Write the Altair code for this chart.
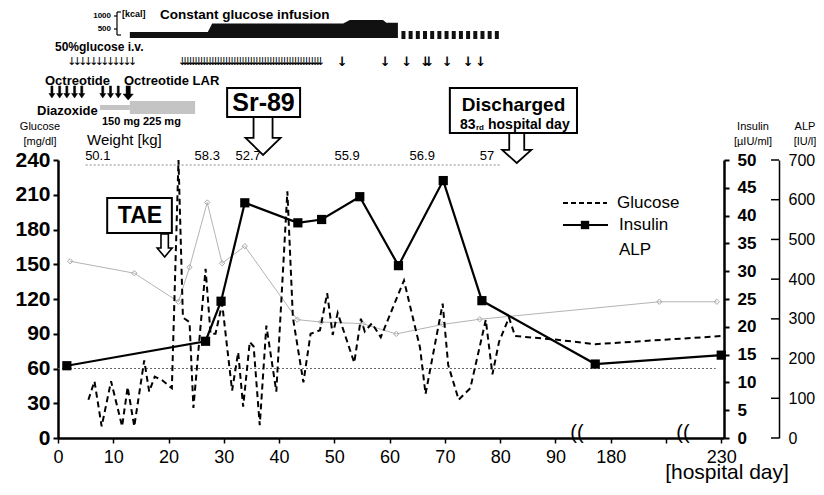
import altair as alt
import pandas as pd

# ---------------- data ----------------
glucose_day = [5.5, 6.6, 7.9, 9.6, 11.6, 12.6, 13.8, 15.6, 16.5, 17.5, 18.8, 20.6, 21.8, 22.6,
               23.8, 24.5, 26.7, 27.6, 28.5, 29.7, 31.5, 32.6, 33.5, 34.7, 35.4, 36.5, 37.7,
               39.5, 41.5, 42.5, 44.4, 45.7, 47.4, 48.7, 49.7, 50.6, 53.6, 54.8, 55.5, 56.8,
               58.4, 62.6, 65.5, 66.5, 69.6, 70.6, 72.5, 74.6, 77.4, 78.6, 79.8, 81.6, 82.7,
               90, 173, 230]
glucose_val = [33, 49, 10, 49, 10, 44, 10, 67, 40, 53, 50, 43, 240, 104,
               100, 26, 146, 90, 90, 116, 41, 74, 27, 83, 79, 11, 97,
               40, 213, 104, 48, 90, 93, 125, 89, 108, 65, 103, 92, 99,
               87, 136, 78, 38, 116, 63, 33, 43, 102, 55, 83, 104, 88,
               85, 81, 88]

insulin_day = [1.6, 26.7, 29.5, 33.8, 43.4, 47.7, 54.6, 61.6, 69.7, 76.7, 173, 230]
insulin_val = [13.0, 17.4, 24.6, 42.3, 38.7, 39.3, 43.4, 31.0, 46.3, 24.7, 13.3, 14.9]

alp_day = [2.2, 13.8, 21.8, 23.8, 27.0, 29.7, 33.8, 43.3, 47.6, 55.1, 61.2, 69.6, 76.3, 202, 228]
alp_val = [445, 415, 343, 430, 593, 440, 483, 298, 292, 288, 262, 286, 299, 343, 343]

weight_day = [7.2, 27.0, 34.4, 52.3, 65.9, 77.6]
weight_kg = ["50.1", "58.3", "52.7", "55.9", "56.9", "57"]

x_tick_labels = ["0", "10", "20", "30", "40", "50", "60", "70", "80", "90", "180", "", "230"]
glucose_ticks = [0, 30, 60, 90, 120, 150, 180, 210, 240]
insulin_ticks = [0, 5, 10, 15, 20, 25, 30, 35, 40, 45, 50]
alp_ticks = [0, 100, 200, 300, 400, 500, 600, 700]

hypo_threshold = 60  # mg/dl reference line

infusion_day = [13.0, 27.1, 27.9, 51.6, 52.8, 58.8, 59.4, 61.5]
infusion_kcal = [250, 250, 600, 600, 750, 750, 640, 640]
infusion_block_day = [62.5, 63.8, 65.1, 66.4, 67.7, 69.0, 70.3, 71.6, 72.9, 74.2, 75.5, 76.8, 78.1, 79.4]

iv_group1_day = [2.5, 3.5, 4.5, 5.5, 6.5, 7.5, 8.5, 9.5, 10.5, 11.5, 12.5, 13.5]
iv_group2_day = [22.5, 23.0, 23.5, 24.0, 24.5, 25.0, 25.5, 26.0, 26.5, 27.0, 27.5, 28.0, 28.5,
                 29.0, 29.5, 30.0, 30.5, 31.0, 31.5, 32.0, 32.5, 33.0, 33.5, 34.0, 34.5, 35.0,
                 35.5, 36.0, 36.5, 37.0, 37.5, 38.0, 38.5, 39.0, 39.5, 40.0, 40.5, 41.0, 41.5,
                 42.0, 42.5, 43.0, 43.5, 44.0, 44.5, 45.0, 45.5, 46.0, 46.5, 47.0, 47.5]
iv_single_day = [51.4, 59.2, 63.1, 66.5, 67.1, 70.4, 74.2, 76.5]

octreotide_day = [-1.1, 0.3, 1.6, 3.0, 4.3, 8.1, 9.5, 10.9]
octreotide_lar_day = [12.7]

diazoxide_start = [7.6, 13.0]
diazoxide_end = [13.0, 24.8]
diazoxide_dose = [150, 225]

tae_day, sr89_day, discharge_day = 19.3, 37.1, 83.0

# ---------------- helpers ----------------
FONT = "Liberation Sans"
NARROW = "Liberation Sans Narrow, Liberation Sans"
OX, OY = 58, 160          # image position of the plot origin
W, H = 666, 278


def pos(d):
    """axis position of a hospital day (broken axis: 0-90 linear, then 180-230)"""
    return d / 10 if d <= 95 else 10 + (d - 180) / 25


ONE = pd.DataFrame({"k": [0]})
xs = alt.Scale(domain=[0, 12.05], nice=False, zero=False)
label_expr = "[" + ",".join("'%s'" % s for s in x_tick_labels) + "][datum.value]"
x_axis = alt.Axis(values=list(range(13)), labelExpr=label_expr, labelFontSize=18, labelFont=NARROW,
                  domainWidth=2.5, tickWidth=1.5, tickSize=5, labelPadding=5, grid=False,
                  labelOverlap=False, labelFlush=False, title=None)
X = alt.X("x:Q", scale=xs, axis=x_axis, title=None)
X2 = alt.X2("x2:Q")

g_axis = alt.Axis(orient="left", values=glucose_ticks, labelFontSize=21, labelFontWeight="bold",
                  labelFont=FONT, domainWidth=2.5, tickWidth=2, tickSize=5, labelPadding=3,
                  grid=False, title=None, labelOverlap=False, labelFlush=False)
GY = alt.Y("v:Q", scale=alt.Scale(domain=[0, 240], nice=False, zero=True), axis=g_axis, title=None)

ins_axis = alt.Axis(orient="right", values=insulin_ticks, labelFontSize=17, labelFontWeight="bold",
                    labelFont=FONT, domainWidth=2.5, tickWidth=2, tickSize=5, labelPadding=8,
                    grid=False, title=None, labelOverlap=False, labelFlush=False)
alp_axis = alt.Axis(orient="right", offset=55, values=alp_ticks, labelFontSize=16, labelFont=FONT,
                    domainWidth=1.5, ticks=False, labelPadding=9, grid=False, title=None,
                    labelOverlap=False, labelFlush=False)


def T(text, x, y, size, weight="normal", align="center", font=FONT):
    return alt.Chart(ONE).mark_text(text=text, align=align, baseline="middle", fontSize=size,
                                    fontWeight=weight, font=font, color="black").encode(
        x=alt.value(x - OX), y=alt.value(y - OY))


def R(x1, y1, x2, y2, w=1.5, color="black", dash=None):
    kw = dict(color=color, strokeWidth=w)
    if dash:
        kw["strokeDash"] = dash
    return alt.Chart(ONE).mark_rule(**kw).encode(
        x=alt.value(x1 - OX), x2=alt.value(x2 - OX), y=alt.value(y1 - OY), y2=alt.value(y2 - OY))


def day_text(days, text, y, size, font="DejaVu Sans", weight="normal"):
    df = pd.DataFrame({"x": [pos(d) for d in days]})
    return alt.Chart(df).mark_text(text=text, fontSize=size, font=font, fontWeight=weight,
                                   baseline="middle", color="black").encode(x=X, y=alt.value(y - OY))


def arrow_point(days, y, path, size, fill, sw=1.8):
    df = pd.DataFrame({"x": [pos(d) for d in days]})
    return alt.Chart(df).mark_point(shape=path, size=size, filled=True, fill=fill, stroke="black",
                                    strokeWidth=sw, opacity=1).encode(x=X, y=alt.value(y - OY))


# ---------------- data layers ----------------
gdf = pd.DataFrame({"x": [pos(d) for d in glucose_day], "v": glucose_val})
glucose_line = alt.Chart(gdf).mark_line(color="black", strokeDash=[6, 4], strokeWidth=2).encode(x=X, y=GY)

ref_df = pd.DataFrame({"x": [0, 11.9], "v": [hypo_threshold, hypo_threshold]})
ref_line = alt.Chart(ref_df).mark_line(color="#666", strokeDash=[2, 2], strokeWidth=1.2).encode(x=X, y=GY)

glucose_group = alt.layer(ref_line, glucose_line)

idf = pd.DataFrame({"x": [pos(d) for d in insulin_day], "v": insulin_val})
IY = alt.Y("v:Q", scale=alt.Scale(domain=[0, 50], nice=False), axis=ins_axis, title=None)
insulin_line = alt.Chart(idf).mark_line(color="black", strokeWidth=2.2).encode(x=X, y=IY)
insulin_pts = alt.Chart(idf).mark_point(shape="square", size=85, filled=True, color="black",
                                        opacity=1).encode(x=X, y=IY)
insulin_group = alt.layer(insulin_line, insulin_pts)

adf = pd.DataFrame({"x": [pos(d) for d in alp_day], "v": alp_val})
AY = alt.Y("v:Q", scale=alt.Scale(domain=[0, 700], nice=False), axis=alp_axis, title=None)
alp_line = alt.Chart(adf).mark_line(color="#b4b4b4", strokeWidth=1).encode(x=X, y=AY)
alp_pts = alt.Chart(adf).mark_point(shape="diamond", size=28, filled=False, color="#a8a8a8",
                                    strokeWidth=1, opacity=1).encode(x=X, y=AY)
alp_tick_df = pd.DataFrame({"v": alp_ticks})
alp_tick_marks = alt.Chart(alp_tick_df).mark_rule(color="black", strokeWidth=1.5).encode(
    x=alt.value(W + 55 - 8), x2=alt.value(W + 55), y=AY)
alp_group = alt.layer(alp_line, alp_pts, alp_tick_marks)

# ---------------- annotations ----------------
ann = []
# weight row
wl = pd.DataFrame({"x": [pos(5), pos(80)]})
ann.append(alt.Chart(wl).mark_line(color="#888", strokeDash=[2, 2], strokeWidth=1.2).encode(
    x=X, y=alt.value(165 - OY)))
wdf = pd.DataFrame({"x": [pos(d) for d in weight_day], "t": weight_kg})
ann.append(alt.Chart(wdf).mark_text(fontSize=13, font=FONT, baseline="middle", color="black").encode(
    x=X, y=alt.value(156 - OY), text="t:N"))
ann.append(T("Weight [kg]", 87, 140, 15, align="left"))

# infusion
inf = pd.DataFrame({"x": [pos(d) for d in infusion_day],
                    "top": [38 - k * 0.024 - OY for k in infusion_kcal],
                    "base": [38 - OY] * len(infusion_day)})
ann.append(alt.Chart(inf).mark_area(color="#111", interpolate="linear").encode(
    x=X, y=alt.Y("top:Q", scale=None, axis=None), y2="base:Q"))
blk = pd.DataFrame({"x": [pos(d) for d in infusion_block_day]})
ann.append(alt.Chart(blk).mark_rule(color="#111", strokeWidth=4).encode(
    x=X, y=alt.value(31 - OY), y2=alt.value(39 - OY)))
ann += [T("1000", 111, 16, 8, "bold", "right"), T("500", 111, 29, 8, "bold", "right"),
        R(117, 12, 117, 35, 1.2), R(117, 12, 121, 12, 1.2), R(117, 35, 121, 35, 1.2),
        R(114, 16, 117, 16, 1.2), R(114, 29, 117, 29, 1.2),
        T("[kcal]", 122, 14, 9, "bold", "left"),
        T("Constant glucose infusion", 160, 15, 13.5, "bold", "left")]

# 50% glucose iv arrows
ann.append(T("50%glucose i.v.", 55, 47, 12, "bold", "left"))
ann.append(day_text(iv_group1_day, "↓", 62, 11))
ann.append(day_text(iv_group2_day, "↓", 62, 11))
ann.append(day_text(iv_single_day, "↓", 62, 13, weight="bold"))

# octreotide
ann.append(T("Octreotide", 45, 81, 13, "bold", "left"))
ann.append(T("Octreotide LAR", 124, 81, 13, "bold", "left"))
OCT = "M -0.17 -1 L 0.17 -1 L 0.17 0.25 L 0.5 0.25 L 0 1 L -0.5 0.25 L -0.17 0.25 Z"
LAR = "M -0.3 -1 L 0.3 -1 L 0.3 0.15 L 0.72 0.15 L 0 1 L -0.72 0.15 L -0.3 0.15 Z"
ann.append(arrow_point(octreotide_day, 92, OCT, 144, "black", 0.5))
ann.append(arrow_point(octreotide_lar_day, 93, LAR, 200, "black", 0.5))

# diazoxide
half = {150: 2.5, 225: 6.5}
dz = pd.DataFrame({"x": [pos(d) for d in diazoxide_start], "x2": [pos(d) for d in diazoxide_end],
                   "y1": [107.5 - half[d] - OY for d in diazoxide_dose],
                   "y2": [107.5 + half[d] - OY for d in diazoxide_dose]})
ann.append(alt.Chart(dz).mark_rect(color="#c4c4c4").encode(
    x=X, x2=X2, y=alt.Y("y1:Q", scale=None, axis=None), y2="y2:Q"))
ann.append(T("Diazoxide", 37, 111, 13, "bold", "left"))
ann.append(T("150 mg 225 mg", 102, 122, 11, "bold", "left"))

# axis titles
ann += [T("Glucose", 40, 127, 11), T("[mg/dl]", 40, 142, 11),
        T("Insulin", 753, 127, 11), T("[µIU/ml]", 753, 142, 11),
        T("ALP", 805, 127, 11), T("[IU/l]", 805, 142, 11),
        T("[hospital day]", 727, 473, 21)]

# axis breaks
ann += [T("((", 577, 433, 20), T("((", 683, 433, 20)]

# boxes with hollow arrows
boxes = pd.DataFrame({"x": [pos(8.9), pos(30.6), pos(70.9)], "x2": [pos(20.6), pos(43.8), pos(93.9)],
                      "y1": [198 - OY, 88 - OY, 88 - OY], "y2": [233 - OY, 117 - OY, 133 - OY]})
ann.append(alt.Chart(boxes).mark_rect(fill="white", stroke="black", strokeWidth=2).encode(
    x=X, x2=X2, y=alt.Y("y1:Q", scale=None, axis=None), y2="y2:Q"))
ann.append(T("TAE", 140, 215.5, 23, "bold"))
ann.append(T("Sr-89", 263.5, 103, 25, "bold", font=NARROW))
ann.append(T("Discharged", 513.5, 105, 19, "bold"))
ann.append(T("83", 460, 125, 14, "bold", "left"))
ann.append(T("rd", 476, 128, 8, "bold", "left"))
ann.append(T("hospital day", 488, 125, 14, "bold", "left"))

TAE_A = "M -0.32 -1 L 0.32 -1 L 0.32 0.22 L 0.65 0.22 L 0 1 L -0.65 0.22 L -0.32 0.22 Z"
SR_A = "M -0.5 -1 L 0.5 -1 L 0.5 0.1 L 0.92 0.1 L 0 1 L -0.92 0.1 L -0.5 0.1 Z"
DIS_A = "M -0.5 -1 L 0.5 -1 L 0.5 0.13 L 0.97 0.13 L 0 1 L -0.97 0.13 L -0.5 0.13 Z"
ann.append(arrow_point([tae_day], 245.5, TAE_A, 529, "white", 1.6))
ann.append(arrow_point([sr89_day], 136, SR_A, 1444, "white", 1.8))
ann.append(arrow_point([discharge_day], 148, DIS_A, 900, "white", 1.8))

# legend
ann += [R(563, 203, 607, 203, 2, dash=[5, 3]), R(563, 225, 608, 225, 2),
        T("Glucose", 617, 203, 17, align="left"), T("Insulin", 619, 225, 17, align="left"),
        T("ALP", 619, 250, 17, align="left")]
ann.append(alt.Chart(ONE).mark_point(shape="square", size=70, filled=True, color="black", opacity=1).encode(
    x=alt.value(585 - OX), y=alt.value(225 - OY)))

ann_group = alt.layer(*ann)

chart = alt.layer(ann_group, alp_group, glucose_group, insulin_group).resolve_scale(
    y="independent").properties(
    width=W, height=H,
    padding={"left": OX - 8, "top": OY - 8, "right": 808 - (OX - 8) - W, "bottom": 479 - (OY - 8) - H},
    autosize=alt.AutoSizeParams(type="none"),
).configure_view(stroke=None).configure_axis(
    domainColor="black", tickColor="black", labelColor="black")

chart.save("out.html", embed_options={"renderer": "svg", "actions": False})
